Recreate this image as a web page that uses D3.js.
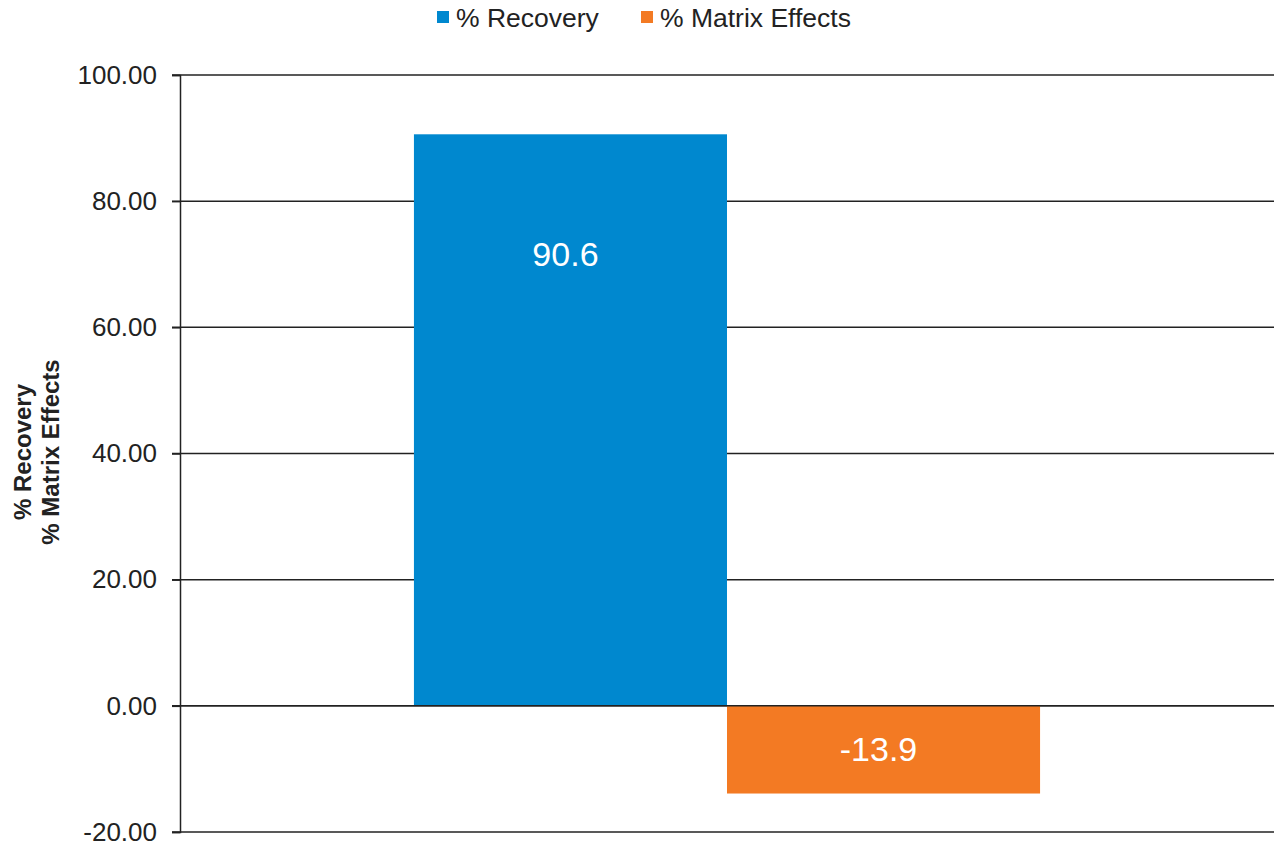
<!DOCTYPE html>
<html><head><meta charset="utf-8">
<script src="https://cdn.jsdelivr.net/npm/d3@7"></script>
<style>body{margin:0;background:#fff;font-family:"Liberation Sans",Arial,sans-serif;}</style>
</head><body>
<svg id="c" width="1280" height="857"></svg>
<script>
const categories = ["Sample"];
const seriesNames = ["% Recovery", "% Matrix Effects"];
const seriesValues = [90.6, -13.9];
const seriesColors = ["#0088cf", "#f37a23"];
const yTicks = [-20, 0, 20, 40, 60, 80, 100];

const svg = d3.select("#c");
const m = {left: 180, right: 1274, top: 75, bottom: 832};
const y = d3.scaleLinear().domain([-20, 100]).range([m.bottom, m.top]);
const x0 = d3.scaleBand().domain(categories).range([m.left, m.right]).padding(0.272);
const x1 = d3.scaleBand().domain(seriesNames).range([0, x0.bandwidth()]).padding(0);

// gridlines
svg.append("g").selectAll("line").data(yTicks).join("line")
  .attr("x1", m.left - 8).attr("x2", m.right)
  .attr("y1", d => y(d)).attr("y2", d => y(d))
  .attr("stroke", "#222").attr("stroke-width", 1.5);

// bars
const g = svg.append("g").attr("transform", `translate(${x0(categories[0])},0)`);
g.selectAll("rect").data(seriesNames).join("rect")
  .attr("x", d => x1(d)).attr("width", x1.bandwidth())
  .attr("y", (d, i) => y(Math.max(0, seriesValues[i])))
  .attr("height", (d, i) => Math.abs(y(seriesValues[i]) - y(0)))
  .attr("fill", (d, i) => seriesColors[i]);

// zero line over bars
svg.append("line").attr("x1", m.left).attr("x2", m.right)
  .attr("y1", y(0)).attr("y2", y(0)).attr("stroke", "#222").attr("stroke-width", 1.5);

// value labels
g.selectAll("text.v").data(seriesNames).join("text").attr("class", "v")
  .attr("x", d => x1(d) + x1.bandwidth() / 2 - 5)
  .attr("y", (d, i) => seriesValues[i] >= 0 ? y(seriesValues[i]) + 120 : y(0) + 43)
  .attr("dy", "0.35em").attr("text-anchor", "middle")
  .attr("fill", "#fff").attr("font-size", 34)
  .text((d, i) => seriesValues[i].toFixed(1));

// y axis
const fmt = d => d.toFixed(2);
const ax = svg.append("g").attr("transform", `translate(${m.left},0)`)
  .call(d3.axisLeft(y).tickValues(yTicks).tickSize(8).tickFormat(fmt));
ax.select(".domain").attr("stroke", "#222").attr("stroke-width", 1.5);
ax.selectAll(".tick line").attr("stroke", "#222").attr("stroke-width", 1.5);
ax.selectAll(".tick text").attr("font-size", 26).attr("fill", "#222")
  .attr("font-family", "Liberation Sans, Arial, sans-serif").attr("x", -23);

// y title
const yt = svg.append("text").attr("transform", "translate(0,452) rotate(-90)")
  .attr("text-anchor", "middle").attr("font-weight", "bold").attr("font-size", 24).attr("fill", "#222");
yt.append("tspan").attr("x", 0).attr("y", 31).text(seriesNames[0]);
yt.append("tspan").attr("x", 0).attr("y", 59).text(seriesNames[1]);

// legend
const legX = [437, 641];
const lg = svg.append("g");
seriesNames.forEach((s, i) => {
  lg.append("rect").attr("x", legX[i]).attr("y", 11).attr("width", 12).attr("height", 12).attr("fill", seriesColors[i]);
  lg.append("text").attr("x", legX[i] + 19).attr("y", 18).attr("dy", "0.35em")
    .attr("font-size", 26.5).attr("fill", "#222").text(s);
});
</script>
</body></html>
